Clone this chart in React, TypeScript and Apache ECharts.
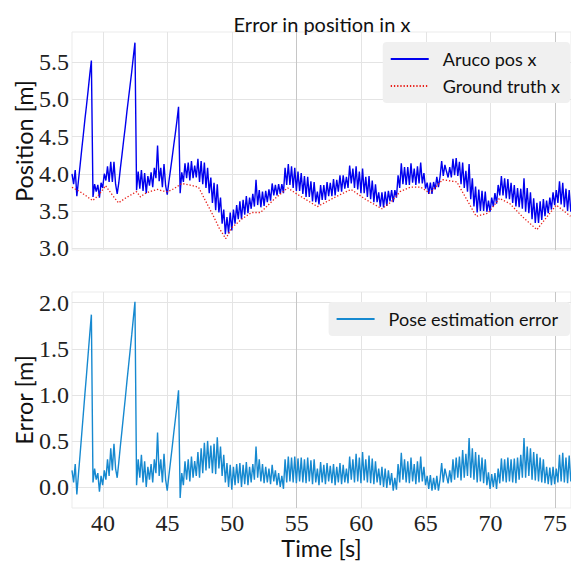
import React, { useEffect, useRef } from "react";
import * as echarts from "echarts";

// ---- data ----
const T_START = 37.6;
const T_STEP = 0.125;

const xTicks = [40, 45, 50, 55, 60, 65, 70, 75];
const posTicks = [3.0, 3.5, 4.0, 4.5, 5.0, 5.5];
const errTicks = [0.0, 0.5, 1.0, 1.5, 2.0];
const darkGridX = [55, 75];

const arucoValues = [
  4.00, 3.86, 4.05, 3.70, 3.91, 4.11, 4.32, 4.52,
  4.73, 4.92, 5.12, 5.33, 5.52, 3.69, 3.86, 3.76,
  3.85, 3.68, 3.88, 3.81, 4.00, 3.91, 4.10, 3.89,
  4.16, 3.89, 4.16, 3.86, 3.73, 3.88, 4.08, 4.26,
  4.45, 4.63, 4.83, 5.01, 5.19, 5.37, 5.57, 5.76,
  3.78, 4.03, 3.80, 4.05, 3.77, 4.01, 3.74, 3.97,
  3.84, 4.02, 3.82, 4.08, 3.94, 4.38, 3.90, 4.08,
  3.82, 4.13, 3.84, 3.72, 3.89, 4.05, 4.21, 4.38,
  4.54, 4.71, 4.90, 3.74, 4.02, 3.89, 4.14, 3.94,
  4.15, 3.91, 4.17, 3.94, 4.11, 3.95, 4.20, 3.89,
  4.17, 3.86, 4.15, 3.81, 4.08, 3.74, 3.95, 3.61,
  3.88, 3.51, 3.86, 3.48, 3.68, 3.33, 3.52, 3.19,
  3.42, 3.20, 3.48, 3.24, 3.52, 3.33, 3.58, 3.39,
  3.63, 3.39, 3.65, 3.45, 3.70, 3.47, 3.68, 3.53,
  3.73, 3.56, 3.92, 3.58, 3.78, 3.55, 3.76, 3.57,
  3.77, 3.62, 3.79, 3.64, 3.87, 3.71, 3.85, 3.71,
  3.86, 3.73, 3.86, 3.74, 4.08, 3.85, 4.13, 3.85,
  4.10, 3.81, 4.08, 3.77, 4.03, 3.77, 4.01, 3.73,
  3.97, 3.69, 3.96, 3.69, 3.90, 3.63, 3.89, 3.62,
  3.76, 3.59, 3.85, 3.65, 3.85, 3.65, 3.89, 3.70,
  3.88, 3.70, 3.93, 3.71, 3.92, 3.76, 3.98, 3.76,
  3.98, 3.80, 3.96, 3.81, 4.11, 3.87, 4.07, 3.81,
  4.10, 3.79, 4.03, 3.74, 4.07, 3.74, 3.96, 3.69,
  3.97, 3.66, 3.91, 3.62, 3.86, 3.62, 3.75, 3.56,
  3.75, 3.55, 3.76, 3.57, 3.77, 3.63, 3.78, 3.62,
  3.78, 3.68, 3.98, 3.81, 4.14, 3.86, 4.09, 3.85,
  4.09, 3.85, 4.14, 3.88, 4.07, 3.85, 4.10, 3.87,
  4.15, 3.87, 4.01, 3.80, 3.88, 3.73, 3.88, 3.73,
  3.89, 3.79, 3.96, 3.82, 3.96, 4.17, 3.97, 4.12,
  4.03, 3.95, 4.09, 3.95, 4.20, 3.98, 4.21, 3.97,
  4.16, 3.86, 4.15, 3.81, 4.04, 3.76, 4.13, 3.66,
  3.94, 3.56, 3.83, 3.48, 3.79, 3.50, 3.77, 3.50,
  3.76, 3.49, 3.64, 3.49, 3.68, 3.56, 3.74, 3.60,
  3.85, 3.71, 3.97, 3.71, 3.94, 3.67, 3.93, 3.66,
  3.88, 3.61, 3.85, 3.56, 3.81, 3.55, 3.80, 3.53,
  3.94, 3.49, 3.81, 3.47, 3.75, 3.39, 3.67, 3.34,
  3.61, 3.34, 3.63, 3.38, 3.66, 3.43, 3.64, 3.47,
  3.68, 3.52, 3.75, 3.58, 3.78, 3.61, 3.90, 3.59,
  3.88, 3.55, 3.80, 3.50, 3.78, 3.49,
];

const errorValues = [
  0.18, 0.05, 0.25, -0.08, 0.14, 0.35, 0.57, 0.79,
  1.01, 1.22, 1.44, 1.66, 1.87, 0.05, 0.2, 0.08,
  0.15, -0.05, 0.12, 0.02, 0.18, 0.08, 0.3, 0.12,
  0.42, 0.18, 0.47, 0.2, 0.1, 0.27, 0.45, 0.62,
  0.79, 0.96, 1.14, 1.31, 1.48, 1.65, 1.83, 2.01,
  0.02, 0.3, 0.1, 0.35, 0.05, 0.28, 0.0, 0.22,
  0.08, 0.25, 0.05, 0.3, 0.15, 0.59, 0.12, 0.3,
  0.05, 0.36, 0.08, -0.04, 0.12, 0.27, 0.42, 0.58,
  0.73, 0.88, 1.05, -0.12, 0.15, 0.02, 0.28, 0.08,
  0.3, 0.06, 0.33, 0.1, 0.28, 0.12, 0.38, 0.1,
  0.42, 0.15, 0.48, 0.18, 0.5, 0.2, 0.45, 0.15,
  0.47, 0.14, 0.54, 0.2, 0.44, 0.12, 0.35, 0.05,
  0.26, 0.0, 0.24, -0.03, 0.22, 0.02, 0.25, 0.04,
  0.26, 0.0, 0.24, 0.03, 0.27, 0.02, 0.22, 0.05,
  0.25, 0.08, 0.44, 0.1, 0.3, 0.06, 0.25, 0.04,
  0.22, 0.05, 0.2, 0.03, 0.24, 0.06, 0.18, 0.02,
  0.15, 0.0, 0.12, -0.02, 0.3, 0.05, 0.33, 0.06,
  0.32, 0.05, 0.33, 0.04, 0.31, 0.06, 0.32, 0.05,
  0.3, 0.04, 0.32, 0.06, 0.29, 0.03, 0.3, 0.05,
  0.2, 0.02, 0.27, 0.05, 0.24, 0.03, 0.26, 0.06,
  0.23, 0.04, 0.25, 0.02, 0.22, 0.05, 0.26, 0.03,
  0.24, 0.05, 0.2, 0.04, 0.33, 0.08, 0.3, 0.05,
  0.36, 0.06, 0.32, 0.04, 0.38, 0.07, 0.3, 0.05,
  0.34, 0.04, 0.31, 0.03, 0.28, 0.05, 0.2, 0.02,
  0.22, 0.0, 0.2, -0.01, 0.18, 0.02, 0.15, -0.04,
  0.1, -0.03, 0.25, 0.05, 0.37, 0.08, 0.3, 0.05,
  0.28, 0.04, 0.32, 0.06, 0.25, 0.03, 0.28, 0.05,
  0.33, 0.06, 0.22, 0.02, 0.12, -0.02, 0.13, -0.04,
  0.1, -0.03, 0.12, -0.04, 0.08, 0.26, 0.05, 0.2,
  0.12, 0.04, 0.18, 0.05, 0.3, 0.08, 0.32, 0.1,
  0.33, 0.07, 0.4, 0.1, 0.36, 0.12, 0.53, 0.1,
  0.42, 0.08, 0.38, 0.05, 0.35, 0.06, 0.32, 0.04,
  0.3, 0.02, 0.16, -0.02, 0.14, 0.0, 0.15, -0.02,
  0.2, 0.04, 0.31, 0.06, 0.3, 0.05, 0.32, 0.06,
  0.3, 0.05, 0.31, 0.04, 0.32, 0.08, 0.35, 0.1,
  0.53, 0.1, 0.44, 0.12, 0.42, 0.08, 0.38, 0.07,
  0.36, 0.06, 0.32, 0.05, 0.3, 0.04, 0.22, 0.03,
  0.21, 0.02, 0.22, 0.03, 0.2, 0.05, 0.35, 0.06,
  0.37, 0.05, 0.32, 0.04, 0.34, 0.06,
];

const gtTimes = [
  37.6, 38.4, 39.2, 39.7, 40.2, 40.7, 41.2, 41.8, 42.4, 42.6, 42.9, 43.2, 43.6,
  44.2, 44.6, 45.0, 45.5, 46.1, 46.7, 47.4, 47.9, 48.5, 49.0, 49.5, 50.0, 50.8,
  51.5, 52.2, 53.2, 54.3, 55.0, 56.6, 57.9, 59.2, 60.4, 61.6, 62.3, 63.0, 63.8,
  64.6, 65.3, 66.3, 67.4, 68.9, 69.8, 70.7, 71.5, 72.5, 73.6, 75.1, 76.2,
];
const gtValues = [
  3.82, 3.74, 3.64, 3.72, 3.84, 3.72, 3.61, 3.68, 3.74, 3.76, 3.69, 3.73, 3.76,
  3.79, 3.77, 3.76, 3.80, 3.87, 3.85, 3.82, 3.65, 3.45, 3.27, 3.13, 3.28, 3.40,
  3.48, 3.48, 3.65, 3.81, 3.73, 3.56, 3.68, 3.79, 3.65, 3.53, 3.62, 3.76, 3.82,
  3.82, 3.74, 3.92, 3.89, 3.43, 3.47, 3.67, 3.60, 3.42, 3.25, 3.58, 3.43,
];

const SANS = "Lato";
const SERIF = "Liberation Serif";

export default function App() {
  const ref = useRef<HTMLDivElement>(null);

  useEffect(() => {
    if (!ref.current) return;
    const chart = echarts.init(ref.current, undefined, { renderer: "svg" });

    const arucoData = arucoValues.map((v, i) => [T_START + i * T_STEP, v]);
    const errorData = errorValues.map((v, i) => [T_START + i * T_STEP, v]);
    const gtData = gtTimes.map((t, i) => [t, gtValues[i]]);

    const gridLine = { show: true, lineStyle: { color: "#e4e4e4", width: 1 } };
    const markDark = {
      silent: true,
      symbol: ["none", "none"],
      label: { show: false },
      z: 1,
      lineStyle: { color: "#c6c6c6", width: 1, type: "solid" },
      data: darkGridX.map((v) => ({ xAxis: v })),
    };

    const serifRich = { s: { fontFamily: SERIF, fontSize: 24, color: "#222" } };

    const xBase = (gridIndex: number, showLabels: boolean) => ({
      type: "value",
      gridIndex,
      min: 37.6,
      max: 76.24,
      axisLine: { show: false },
      axisTick: { show: false, customValues: xTicks },
      axisLabel: {
        show: showLabels,
        customValues: xTicks,
        formatter: (v: number) => "{s|" + String(v) + "}",
        rich: serifRich,
        fontFamily: SERIF,
        fontSize: 24,
        color: "#222",
        margin: 3,
      },
      splitLine: gridLine,
    });

    const yBase = (
      gridIndex: number,
      min: number,
      max: number,
      ticks: number[],
      name: string
    ) => ({
      type: "value",
      gridIndex,
      min,
      max,
      axisLine: { show: false },
      axisTick: { show: false, customValues: ticks },
      axisLabel: {
        customValues: ticks,
        formatter: (v: number) => "{s|" + v.toFixed(1) + "}",
        rich: serifRich,
        fontFamily: SERIF,
        fontSize: 24,
        color: "#222",
        margin: 3,
      },
      splitLine: gridLine,
      name,
      nameLocation: "middle",
      nameGap: 36,
      nameMoveOverlap: false,
      nameTextStyle: { fontFamily: SANS, fontSize: 23.5, color: "#111" },
    });

    const legendBase = {
      orient: "vertical",
      right: 1,
      backgroundColor: "#f0f0f0",
      borderRadius: 4,
      itemWidth: 38,
      itemHeight: 14,
      itemGap: 9,
      itemStyle: { opacity: 0 },
      textStyle: {
        fontFamily: SANS,
        fontSize: 18,
        color: "#111",
        padding: [0, 0, 0, 9],
      },
    };

    chart.setOption({
      animation: false,
      backgroundColor: "#ffffff",
      grid: [
        { left: 72, top: 32, width: 499, height: 218, show: true, borderColor: "#ebebeb", borderWidth: 1, backgroundColor: "transparent" },
        { left: 72, top: 292, width: 499, height: 216, show: true, borderColor: "#ebebeb", borderWidth: 1, backgroundColor: "transparent" },
      ],
      xAxis: [
        xBase(0, false),
        {
          ...xBase(1, true),
          name: "Time [s]",
          nameLocation: "middle",
          nameGap: 28,
          nameMoveOverlap: false,
          nameTextStyle: { fontFamily: SANS, fontSize: 23.5, color: "#111" },
        },
      ],
      yAxis: [
        yBase(0, 2.977, 5.903, posTicks, "Position [m]"),
        yBase(1, -0.228, 2.116, errTicks, "Error [m]"),
      ],
      legend: [
        {
          ...legendBase,
          top: 42,
          padding: [8, 10, 8, 7],
          data: ["Aruco pos x", "Ground truth x"],
        },
        {
          ...legendBase,
          top: 302,
          padding: [8, 12, 8, 7],
          data: ["Pose estimation error"],
        },
      ],
      graphic: [
        {
          type: "text",
          x: 322,
          y: 24,
          style: {
            text: "Error in position in x",
            fontFamily: SANS,
            fontSize: 20,
            fill: "#111",
            align: "center",
            verticalAlign: "middle",
          },
        },
      ],
      series: [
        {
          name: "Aruco pos x",
          type: "line",
          xAxisIndex: 0,
          yAxisIndex: 0,
          data: arucoData,
          symbol: "none",
          showSymbol: false,
          z: 3,
          lineStyle: { color: "#0000ee", width: 1.4 },
          itemStyle: { color: "#0000ee" },
          markLine: markDark,
        },
        {
          name: "Ground truth x",
          type: "line",
          xAxisIndex: 0,
          yAxisIndex: 0,
          data: gtData,
          symbol: "none",
          showSymbol: false,
          z: 4,
          lineStyle: { color: "#e8201a", width: 1.3, type: [1.3, 1.9] },
          itemStyle: { color: "#e8201a" },
        },
        {
          name: "Pose estimation error",
          type: "line",
          xAxisIndex: 1,
          yAxisIndex: 1,
          data: errorData,
          symbol: "none",
          showSymbol: false,
          z: 3,
          lineStyle: { color: "#1689d0", width: 1.4 },
          itemStyle: { color: "#1689d0" },
          markLine: markDark,
        },
      ],
    });

    return () => chart.dispose();
  }, []);

  return (
    <div
      ref={ref}
      style={{ position: "fixed", left: 0, top: 0, width: 571, height: 562, background: "#fff" }}
    />
  );
}
